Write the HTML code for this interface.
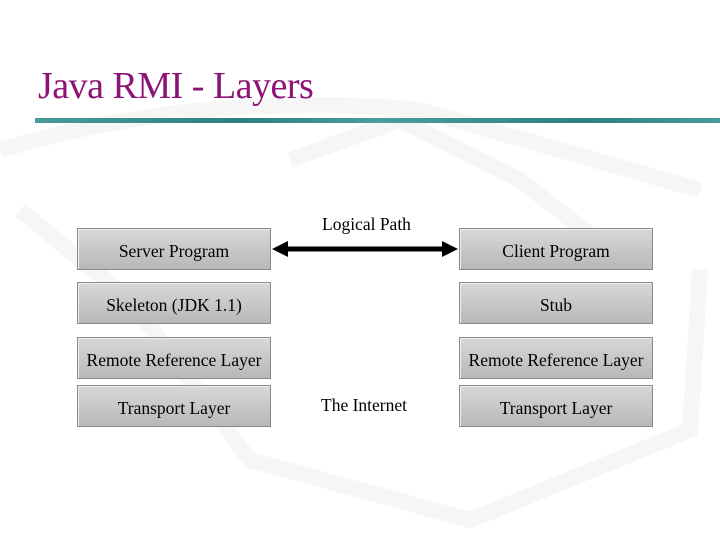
<!DOCTYPE html>
<html><head><style>
body{margin:0;width:720px;height:540px;background:#fff;position:relative;overflow:hidden;font-family:"Liberation Serif",serif;}
.t{position:absolute;left:38px;top:64px;font-size:38px;color:#8b1476;white-space:nowrap;letter-spacing:-0.5px}
.line{position:absolute;left:35px;top:118px;width:685px;height:5px;background:linear-gradient(90deg,#4a9a9a,#2f7f80 30%,#4d9c9c 50%,#2f7f80 80%,#4a9a9a)}
.b{position:absolute;width:192px;height:40px;border:1px solid #8a8a8a;background:linear-gradient(#d8d8d8,#b8b8b8);box-sizing:content-box;text-align:center;line-height:44px;font-size:17.5px;color:#000;box-shadow:inset 1px 1px 0 #eee;white-space:nowrap}
.l{position:absolute;font-size:17.5px;white-space:nowrap}
</style></head><body>
<svg style="position:absolute;left:0;top:0" width="720" height="540">
<g fill="none" stroke="#f6f6f6" stroke-width="16">
<path d="M0 150 Q200 90 420 110 L700 190"/>
<path d="M20 210 L130 300 L250 460 L470 520 L690 430 L700 270"/>
<path d="M290 160 L400 120 L520 180 L610 250"/>
</g>
<line x1="284" y1="249" x2="446" y2="249" stroke="#000" stroke-width="5"/>
<polygon points="272,249 288,241 288,257" fill="#000"/>
<polygon points="458,249 442,241 442,257" fill="#000"/>
</svg>
<div class="t">Java RMI - Layers</div>
<div class="line"></div>
<div class="l" style="left:322px;top:214px">Logical Path</div>
<div class="l" style="left:321px;top:395px">The Internet</div>
<div class="b" style="left:77px;top:228px">Server Program</div>
<div class="b" style="left:77px;top:282px">Skeleton (JDK 1.1)</div>
<div class="b" style="left:77px;top:337px">Remote Reference Layer</div>
<div class="b" style="left:77px;top:385px">Transport Layer</div>
<div class="b" style="left:459px;top:228px">Client Program</div>
<div class="b" style="left:459px;top:282px">Stub</div>
<div class="b" style="left:459px;top:337px">Remote Reference Layer</div>
<div class="b" style="left:459px;top:385px">Transport Layer</div>
</body></html>
